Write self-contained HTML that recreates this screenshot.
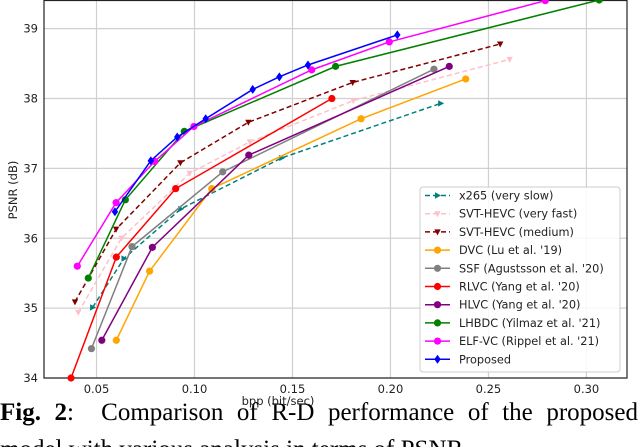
<!DOCTYPE html>
<html style="height:447px;overflow:hidden"><head><meta charset="utf-8"><style>
html,body{margin:0;background:#fff;width:640px;height:447px;overflow:hidden}
body{position:relative;font-family:"DejaVu Sans","Liberation Sans",sans-serif}
svg{position:absolute;left:0;top:0}
.cap{position:absolute;left:0;width:638px;font-family:"Liberation Serif",serif;font-size:25px;text-align:justify;text-align-last:justify;white-space:nowrap;line-height:30px}
#clip{position:absolute;left:0;top:0;width:640px;height:447px;overflow:hidden}
</style></head><body>
<div id="clip">
<div class="cap" style="top:398px"><b>Fig. 2</b>:&nbsp; Comparison of R-D performance of the proposed</div>
<div class="cap" style="top:435px;text-align:left;text-align-last:left">model with various analysis in terms of PSNR.</div>
<svg id="chart" width="640" height="410"></svg>
</div>
<script>
const xTicks=[0.05,0.10,0.15,0.20,0.25,0.30];
const yTicks=[34,35,36,37,38,39];
const names=["x265 (very slow)","SVT-HEVC (very fast)","SVT-HEVC (medium)","DVC (Lu et al. '19)","SSF (Agustsson et al. '20)","RLVC (Yang et al. '20)","HLVC (Yang et al. '20)","LHBDC (Yilmaz et al. '21)","ELF-VC (Rippel et al. '21)","Proposed"];
const colors=["#008080","#ffc0cb","#800000","#ffa500","#808080","#ff0000","#800080","#008000","#ff00ff","#0000ff"];
const markers=["tri-r","tri-d","tri-d","o","o","o","o","o","o","d"];
const dashed=[1,1,1,0,0,0,0,0,0,0];
const x265X=[0.048,0.064,0.093,0.1445,0.2256], x265Y=[35.01,35.71,36.42,37.15,37.93];
const svtFastX=[0.0407,0.0627,0.0975,0.1283,0.181,0.2608], svtFastY=[34.94,36.0,36.93,37.38,37.97,38.56];
const svtMedX=[0.039,0.060,0.0928,0.1275,0.1807,0.256], svtMedY=[35.09,36.13,37.08,37.66,38.23,38.78];
const dvcX=[0.0601,0.0771,0.1088,0.185,0.2384], dvcY=[34.54,35.53,36.71,37.71,38.28];
const ssfX=[0.0474,0.0681,0.1144,0.2222], ssfY=[34.42,35.88,36.95,38.42];
const rlvcX=[0.037,0.0601,0.0904,0.1701], rlvcY=[34.0,35.73,36.71,38.0];
const hlvcX=[0.0527,0.0785,0.1277,0.23], hlvcY=[34.54,35.87,37.19,38.46];
const lhbdcX=[0.0458,0.0647,0.0948,0.172,0.3065], lhbdcY=[35.43,36.55,37.53,38.46,39.41];
const elfX=[0.0402,0.060,0.0797,0.0997,0.1598,0.1994,0.279], elfY=[35.60,36.51,37.10,37.60,38.41,38.81,39.40];
const propX=[0.0594,0.0777,0.0912,0.1057,0.1297,0.1433,0.1579,0.2035], propY=[36.38,37.11,37.45,37.71,38.13,38.31,38.48,38.91];
const seriesX=[x265X,svtFastX,svtMedX,dvcX,ssfX,rlvcX,hlvcX,lhbdcX,elfX,propX];
const seriesY=[x265Y,svtFastY,svtMedY,dvcY,ssfY,rlvcY,hlvcY,lhbdcY,elfY,propY];
const L=44,R=627,T=0,B=378,xmin=0.0232,xmax=0.3207,ymin=34,ymax=39.41;
const sx=v=>L+(v-xmin)/(xmax-xmin)*(R-L);
const sy=v=>B-(v-ymin)/(ymax-ymin)*(B-T);
const svg=document.getElementById('chart');const NS="http://www.w3.org/2000/svg";
function mk(t,a,p){const e=document.createElementNS(NS,t);for(const k in a)e.setAttribute(k,a[k]);(p||svg).appendChild(e);return e;}
function marker(type,x,y,c,g){
 let e;
 if(type==="o")e=mk('circle',{cx:x,cy:y,r:3.6,fill:c},g);
 else if(type==="d")e=mk('polygon',{points:`${x},${y-4.5} ${x+3.2},${y} ${x},${y+4.5} ${x-3.2},${y}`,fill:c},g);
 else if(type==="tri-d")e=mk('polygon',{points:`${x-3.2},${y-2.5} ${x+3.2},${y-2.5} ${x},${y+3.5}`,fill:c},g);
 else e=mk('polygon',{points:`${x-2.5},${y-3.2} ${x-2.5},${y+3.2} ${x+3.5},${y}`,fill:c},g);
 return e;
}
for(const t of xTicks){const l=mk('line',{x1:sx(t),x2:sx(t),y1:T,y2:B,stroke:"#d0d0d0","stroke-width":1.2});

const tx=mk('text',{x:sx(t),y:393,"text-anchor":"middle","font-size":11.5,fill:"#222"});tx.textContent=t.toFixed(2);
}
for(const t of yTicks){const l=mk('line',{x1:L,x2:R,y1:sy(t),y2:sy(t),stroke:"#d0d0d0","stroke-width":1.2});

const tx=mk('text',{x:38,y:sy(t)+4,"text-anchor":"end","font-size":11.5,fill:"#222"});tx.textContent=t;
}
const fr=mk('rect',{x:L,y:T+0.5,width:R-L,height:B-T-0.5,fill:"none",stroke:"#222","stroke-width":1.2});

const yt=mk('text',{x:17,y:190,"text-anchor":"middle","font-size":11.5,fill:"#222",transform:"rotate(-90 17 190)"});yt.textContent="PSNR (dB)";

const xt=mk('text',{x:278,y:405,"text-anchor":"middle","font-size":11.5,fill:"#222"});xt.textContent="bpp (bit/sec)";

for(let i=0;i<names.length;i++){
 const g=mk('g',{});
 
 
 const pts=seriesX[i].map((v,j)=>sx(v)+","+sy(seriesY[i][j])).join(" ");
 mk('polyline',{points:pts,fill:"none",stroke:colors[i],"stroke-width":1.5,"stroke-dasharray":dashed[i]?"5,3":"none"},g);
 seriesX[i].forEach((v,j)=>marker(markers[i],sx(v),sy(seriesY[i][j]),colors[i],g));
}
const lg=mk('g',{});

mk('rect',{x:420,y:187,width:200,height:185,rx:3,fill:"#fff","fill-opacity":0.85,stroke:"#ccc"},lg);
for(let i=0;i<names.length;i++){
 const y=195.5+i*18.2;
 const g=mk('g',{},lg);
 
 mk('line',{x1:425,x2:450,y1:y,y2:y,stroke:colors[i],"stroke-width":1.5,"stroke-dasharray":dashed[i]?"5,3":"none"},g);
 marker(markers[i],437.5,y,colors[i],g);
 const t=mk('text',{x:459,y:y+4,"font-size":11.3,fill:"#222"},g);t.textContent=names[i];
}
</script>
</body></html>
